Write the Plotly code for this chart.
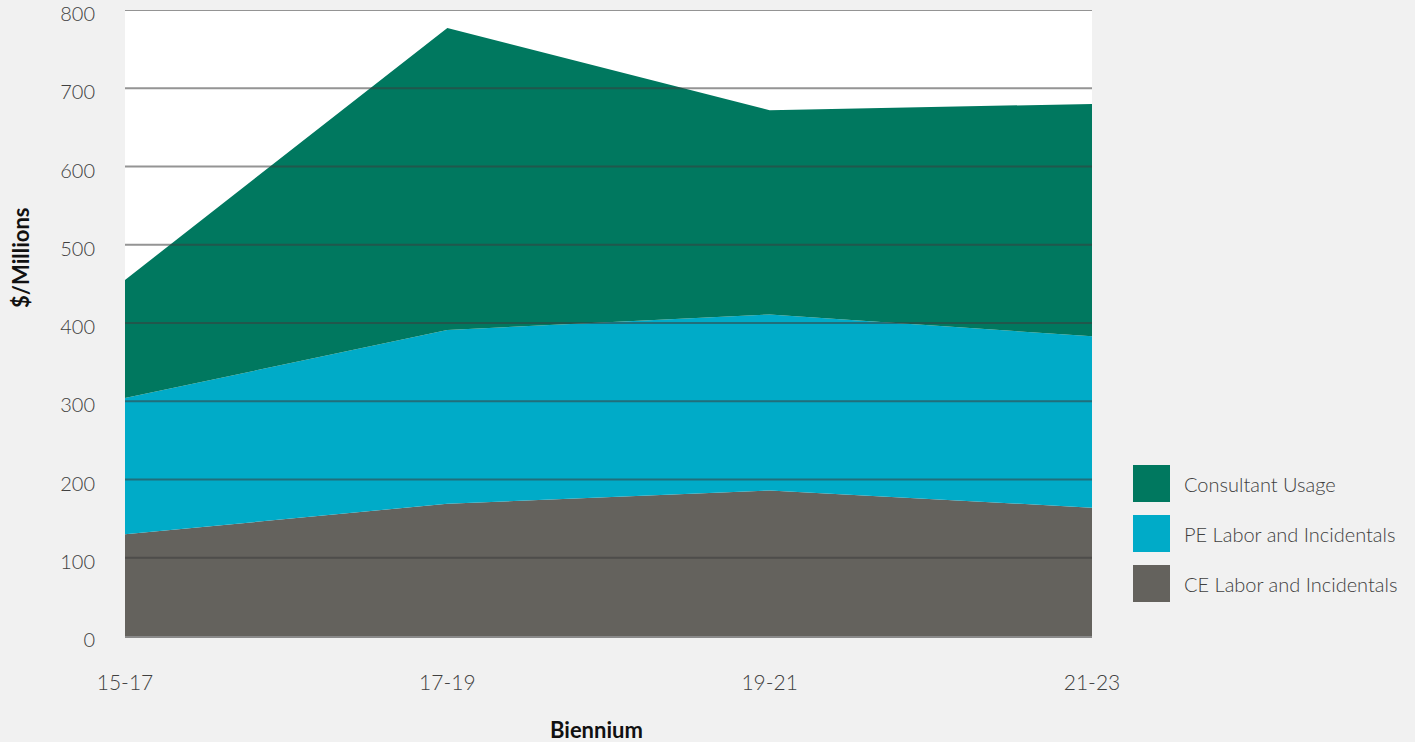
import plotly.graph_objects as go

categories = ["15-17", "17-19", "19-21", "21-23"]
ce_labor = [130, 169, 186, 164]
pe_labor = [174, 222, 225, 219]
consultant = [151, 386, 261, 297]
y_ticks = [0, 100, 200, 300, 400, 500, 600, 700, 800]

series = [
    ("CE Labor and Incidentals", ce_labor, "#64625d"),
    ("PE Labor and Incidentals", pe_labor, "#00abc8"),
    ("Consultant Usage", consultant, "#00785f"),
]

W, H = 1415, 742
L, R, T, B = 125, W - 1092, 10, H - 636
pw, ph = W - L - R, H - T - B

def px(x):
    return (x - L) / pw

def py(y):
    return (H - B - y) / ph

fig = go.Figure()
for name, vals, col in series:
    fig.add_trace(go.Scatter(
        x=categories, y=vals, name=name, stackgroup="one", mode="lines",
        line=dict(width=0, color=col), fillcolor=col, hoverinfo="skip",
        showlegend=False,
    ))

shapes = []
for v in y_ticks[1:]:
    shapes.append(dict(type="line", xref="paper", yref="y", x0=0, x1=1, y0=v, y1=v,
                       line=dict(color="rgba(60,60,60,0.55)", width=2), layer="above"))

annotations = []
legend_items = [("Consultant Usage", "#00785f", 465), ("PE Labor and Incidentals", "#00abc8", 515),
                ("CE Labor and Incidentals", "#64625d", 565)]
for name, col, top in legend_items:
    shapes.append(dict(type="rect", xref="paper", yref="paper",
                       x0=px(1133), x1=px(1170), y0=py(top + 37), y1=py(top),
                       fillcolor=col, line=dict(width=0), layer="above"))
    annotations.append(dict(text=name, xref="paper", yref="paper", x=px(1182), y=py(top + 19),
                            xanchor="left", yanchor="middle", showarrow=False,
                            font=dict(family="Lato", size=20, color="#404040", weight=300)))

annotations.append(dict(text="<b>$/Millions</b>", xref="paper", yref="paper", x=px(20), y=py(258),
                        xanchor="center", yanchor="middle", textangle=-90, showarrow=False,
                        font=dict(family="Lato", size=22, color="#111111")))
annotations.append(dict(text="<b>Biennium</b>", xref="paper", yref="paper", x=px(596), y=py(729),
                        xanchor="center", yanchor="middle", showarrow=False,
                        font=dict(family="Lato", size=22, color="#111111")))

fig.update_layout(
    width=W, height=H,
    margin=dict(l=L, r=R, t=T, b=B, autoexpand=False),
    paper_bgcolor="#f1f1f1", plot_bgcolor="#ffffff",
    showlegend=False,
    shapes=shapes, annotations=annotations,
    font=dict(family="Lato", color="#404040"),
    xaxis=dict(type="category", range=[0, 3], showgrid=False, zeroline=False,
               showline=True, linecolor="#8a8a8a", linewidth=2, automargin=False,
               tickfont=dict(family="Lato", size=21, color="#404040", weight=300),
               ticks="", ticklabelstandoff=27, ticklabeloverflow="allow", fixedrange=True),
    yaxis=dict(range=[0, 800], tickvals=y_ticks, showgrid=False, zeroline=False,
               showline=False, automargin=False,
               tickfont=dict(family="Lato", size=20, color="#404040", weight=300),
               ticks="", ticklabelstandoff=29, ticklabelshift=4,
               ticklabeloverflow="allow", fixedrange=True),
)

fig.write_html("out.html")
